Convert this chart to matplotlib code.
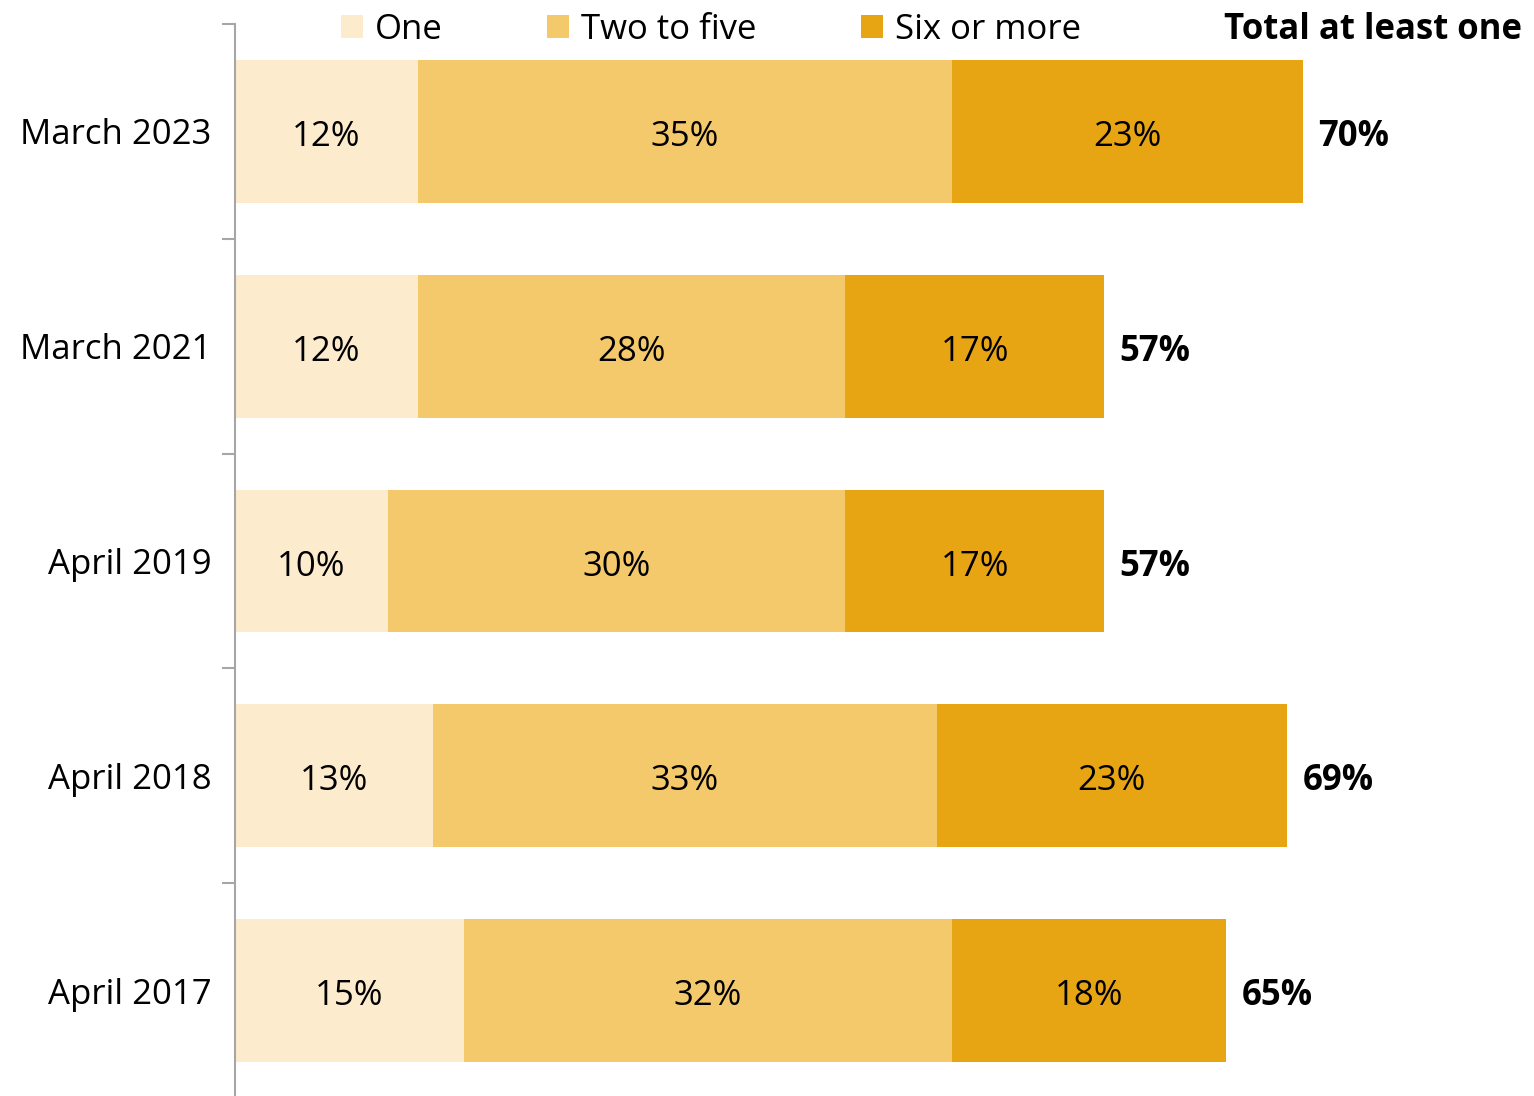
import matplotlib.pyplot as plt
from matplotlib.ticker import FixedLocator

plt.rcParams['font.family'] = ['Open Sans', 'DejaVu Sans']

periods = ['March 2023', 'March 2021', 'April 2019', 'April 2018', 'April 2017']
one = [12, 12, 10, 13, 15]
two_to_five = [35, 28, 30, 33, 32]
six_plus = [23, 17, 17, 23, 18]
totals = [70, 57, 57, 69, 65]

series = [('One', one, '#FCEBCD'),
          ('Two to five', two_to_five, '#F3C96C'),
          ('Six or more', six_plus, '#E8A513')]

fig = plt.figure(figsize=(15.34, 10.96), dpi=100)
ax = fig.add_axes([235 / 1534, -2 / 1096, 1299 / 1534, 1074 / 1096])

fs = 25
y = list(range(len(periods)))
left = [0] * len(periods)
for name, vals, col in series:
    bars = ax.barh(y, vals, left=left, height=0.665, color=col, label=name)
    for b, v in zip(bars, vals):
        ax.annotate(f'{v}%', (b.get_x() + b.get_width() / 2, b.get_y() + b.get_height() / 2),
                    xytext=(0, -4), textcoords='offset points',
                    ha='center', va='center', fontsize=fs, color='black')
    left = [l + v for l, v in zip(left, vals)]

# bold totals just past the end of each bar
for yi, end, t in zip(y, left, totals):
    ax.annotate(f'{t}%', (end, yi), xytext=(11, -4), textcoords='offset points',
                ha='left', va='center', fontsize=fs, fontweight='bold')

ax.set_xlim(0, 1299 / 15.25)
ax.set_ylim(len(periods) - 0.5, -0.5)

ax.set_yticks(y)
ax.set_yticklabels(periods, fontsize=fs, va='center_baseline')
ax.tick_params(axis='y', which='major', length=0, pad=17)
ax.yaxis.set_minor_locator(FixedLocator([i - 0.5 for i in range(len(periods) + 1)]))
ax.tick_params(axis='y', which='minor', length=9.5, width=1.5, color='#A6A6A6')
ax.set_xticks([])

for s in ['top', 'right', 'bottom']:
    ax.spines[s].set_visible(False)
ax.spines['left'].set_color('#A6A6A6')
ax.spines['left'].set_linewidth(1.5)

fig.legend(loc='center left', bbox_to_anchor=(341 / 1534, 1 - 30 / 1096),
           ncol=3, frameon=False, fontsize=fs, borderpad=0, borderaxespad=0,
           handlelength=0.63, handleheight=0.63, handletextpad=0.35,
           columnspacing=3.0)
fig.text(1522 / 1534, 1 - 30 / 1096, 'Total at least one', ha='right', va='center',
         fontsize=fs, fontweight='bold')

fig.savefig('out.png', dpi=100)
